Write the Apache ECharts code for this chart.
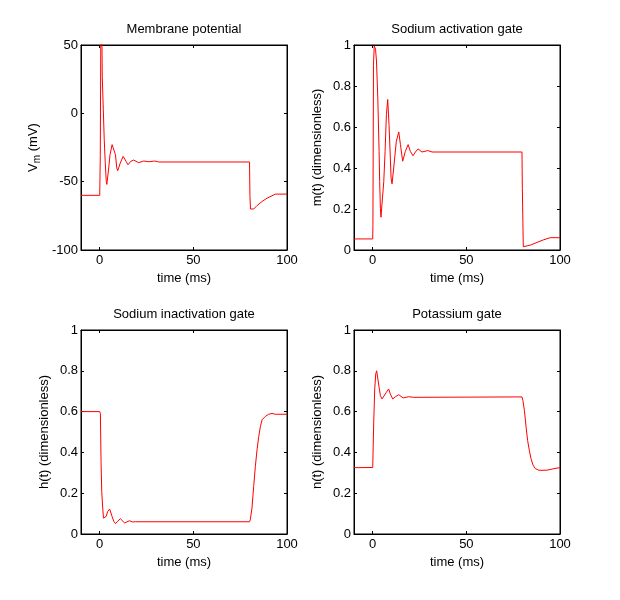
<!DOCTYPE html>
<html>
<head>
<meta charset="utf-8">
<script src="https://cdn.jsdelivr.net/npm/echarts@6/dist/echarts.min.js"></script>
<style>
html,body{margin:0;padding:0;background:#fff;}
#c{width:620px;height:600px;}
</style>
</head>
<body>
<div id="c"></div>
<script>
// ---- data ----
const titles = ['Membrane potential', 'Sodium activation gate', 'Sodium inactivation gate', 'Potassium gate'];
const yLabels = ['{v|V}{s|m} (mV)', 'm(t) (dimensionless)', 'h(t) (dimensionless)', 'n(t) (dimensionless)'];
const xLabel = 'time (ms)';
const xTicks = [0, 50, 100];

const vmTime = [-10, 0, 0.3, 0.55, 0.9, 1.2, 1.35, 1.9, 2.4, 2.9, 3.5, 3.8, 4.1, 4.8, 5.5, 6.6, 7.5, 8.4, 9.1, 9.6, 11.0, 12.5, 13.0, 14.1, 15.1, 16.5, 18.1, 20.8, 23.5, 26.2, 29.4, 31.5, 80, 80.2, 80.5, 81.5, 82.2, 84.0, 86.7, 89.3, 92.0, 93.8, 100];
const vmValues = [-60, -60, -31, 50, 58, 50, 27, 3, -19, -35, -50, -52, -50.7, -40, -30.3, -22.9, -22.4, -30.3, -40, -42, -36.3, -31.5, -31, -35.2, -37.6, -35.2, -34.2, -36.1, -34.9, -35.4, -34.9, -35.6, -35.6, -60, -70, -70.2, -70, -67.5, -64.5, -62.1, -60.3, -59.1, -59.1];

const mTime = [-10, 0, 0.1, 0.4, 0.8, 1.2, 1.5, 2.0, 2.7, 3.4, 3.7, 4.1, 4.4, 5.2, 5.9, 6.6, 7.3, 8.0, 8.7, 9.4, 9.8, 10.3, 11.2, 12.6, 13.9, 14.8, 16.0, 17.4, 18.9, 20.1, 21.5, 22.8, 24.2, 26.3, 29.4, 31.7, 79.7, 79.9, 80.4, 81.0, 84.2, 87.7, 91.3, 94.8, 100];
const mValues = [0.054, 0.054, 0.119, 0.9, 0.995, 0.995, 0.98, 0.922, 0.742, 0.481, 0.334, 0.204, 0.16, 0.253, 0.334, 0.481, 0.661, 0.734, 0.612, 0.449, 0.351, 0.323, 0.4, 0.53, 0.576, 0.514, 0.433, 0.481, 0.514, 0.481, 0.46, 0.478, 0.493, 0.478, 0.485, 0.478, 0.478, 0.3, 0.016, 0.013, 0.024, 0.037, 0.05, 0.06, 0.06];

const hTime = [-10, 0, 0.36, 0.7, 1.07, 1.6, 2.0, 2.7, 3.4, 4.3, 5.3, 6.6, 7.5, 8.4, 9.6, 11.0, 13.3, 15.8, 17.6, 19.0, 80, 80.4, 81.3, 82.2, 83.1, 84.0, 84.9, 85.8, 86.7, 88.4, 90.2, 92.0, 93.8, 100];
const hValues = [0.6, 0.6, 0.59, 0.356, 0.209, 0.127, 0.078, 0.07, 0.086, 0.111, 0.122, 0.086, 0.062, 0.051, 0.062, 0.075, 0.054, 0.065, 0.059, 0.06, 0.06, 0.07, 0.127, 0.233, 0.331, 0.413, 0.478, 0.527, 0.56, 0.576, 0.587, 0.591, 0.587, 0.587];

const nTime = [-10, 0, 0.53, 1.07, 1.6, 2.1, 2.7, 3.4, 4.1, 5.0, 5.9, 7.3, 8.5, 9.4, 10.7, 12.1, 13.9, 16.2, 19.2, 21.9, 79.7, 80.2, 81.0, 81.9, 82.7, 83.6, 84.5, 85.6, 86.8, 88.6, 90.4, 93.1, 95.7, 98.4, 100];
const nValues = [0.325, 0.326, 0.549, 0.711, 0.784, 0.8, 0.792, 0.719, 0.678, 0.662, 0.665, 0.695, 0.711, 0.686, 0.662, 0.673, 0.683, 0.667, 0.673, 0.67, 0.672, 0.654, 0.605, 0.524, 0.459, 0.411, 0.37, 0.338, 0.321, 0.313, 0.312, 0.313, 0.318, 0.323, 0.325];

const yRanges = [[-100, 50, 50], [0, 1, 0.2], [0, 1, 0.2], [0, 1, 0.2]];
const seriesTimes = [vmTime, mTime, hTime, nTime];
const seriesValues = [vmValues, mValues, hValues, nValues];

// ---- layout ----
const FONT = '"Liberation Sans", Arial, sans-serif';
const grids = [
  {left: 81, top: 45, width: 206, height: 205},
  {left: 354, top: 45, width: 206, height: 205},
  {left: 81, top: 330, width: 206, height: 204},
  {left: 354, top: 330, width: 206, height: 204}
];
const nameGaps = [39, 28, 28, 28];

const option = {
  backgroundColor: '#fff',
  animation: false,
  textStyle: {fontFamily: FONT},
  title: [], grid: [], xAxis: [], yAxis: [], series: []
};

const tickStyle = {inside: true, length: 3, lineStyle: {color: '#000', width: 1}};
const axisLine = {show: true, onZero: false, lineStyle: {color: '#000', width: 1}};

grids.forEach((g, i) => {
  option.grid.push(Object.assign({show: true, borderColor: '#000', borderWidth: 1, backgroundColor: '#fff'}, g));
  option.title.push({
    text: titles[i], left: g.left + g.width / 2, top: g.top - 22, textAlign: 'center', padding: 0,
    textStyle: {fontFamily: FONT, fontSize: 13, fontWeight: 'normal', color: '#000'}
  });
  const [ymin, ymax, yint] = yRanges[i];
  // bottom x
  option.xAxis.push({
    type: 'value', gridIndex: i, position: 'bottom', min: -10, max: 100,
    axisLine: axisLine,
    axisTick: Object.assign({customValues: xTicks}, tickStyle),
    axisLabel: {customValues: xTicks, color: '#000', fontSize: 13, fontFamily: FONT, margin: 4},
    splitLine: {show: false},
    name: xLabel, nameLocation: 'middle', nameGap: 22,
    nameTextStyle: {color: '#000', fontSize: 13, fontFamily: FONT}
  });
  // top x (mirrored ticks)
  option.xAxis.push({
    type: 'value', gridIndex: i, position: 'top', min: -10, max: 100,
    axisLine: axisLine,
    axisTick: Object.assign({customValues: xTicks}, tickStyle),
    axisLabel: {show: false}, splitLine: {show: false}
  });
  // left y
  option.yAxis.push({
    type: 'value', gridIndex: i, position: 'left', min: ymin, max: ymax, interval: yint,
    axisLine: axisLine,
    axisTick: tickStyle,
    axisLabel: {color: '#000', fontSize: 13, fontFamily: FONT, margin: 3},
    splitLine: {show: false},
    name: yLabels[i], nameLocation: 'middle', nameGap: nameGaps[i],
    nameTextStyle: {
      color: '#000', fontSize: 13, fontFamily: FONT, lineHeight: 18,
      rich: {
        v: {fontSize: 13, fontFamily: FONT, color: '#000', lineHeight: 18},
        s: {fontSize: 10, fontFamily: FONT, color: '#000', lineHeight: 18, verticalAlign: 'bottom'}
      }
    }
  });
  // right y (mirrored ticks)
  option.yAxis.push({
    type: 'value', gridIndex: i, position: 'right', min: ymin, max: ymax, interval: yint,
    axisLine: axisLine,
    axisTick: tickStyle,
    axisLabel: {show: false}, splitLine: {show: false}
  });
  option.series.push({
    type: 'line', xAxisIndex: 2 * i, yAxisIndex: 2 * i,
    data: seriesTimes[i].map((t, k) => [t, seriesValues[i][k]]),
    showSymbol: false, symbol: 'none', clip: true,
    lineStyle: {color: '#ff0000', width: 1}, itemStyle: {color: '#ff0000'}
  });
});

const chart = echarts.init(document.getElementById('c'), null, {renderer: 'canvas'});
chart.setOption(option);
</script>
</body>
</html>
